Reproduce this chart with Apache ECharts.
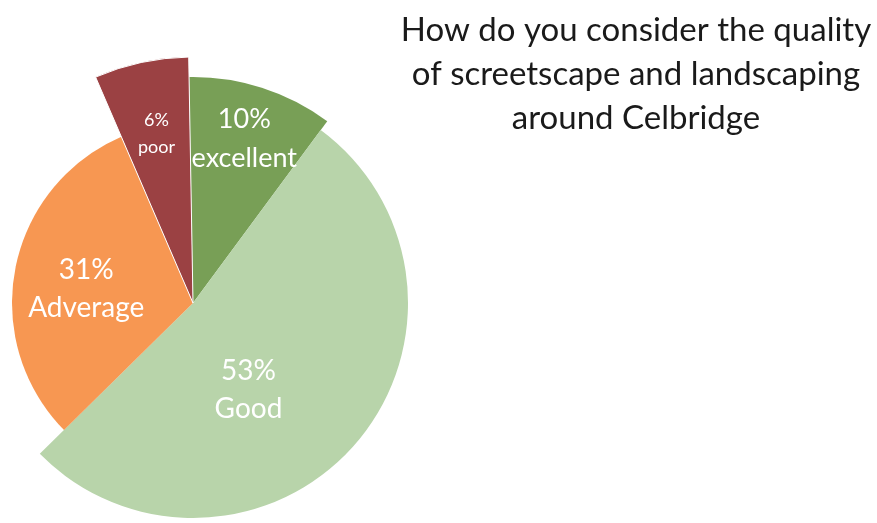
<!DOCTYPE html>
<html>
<head>
<meta charset="utf-8">
<script src="https://cdn.jsdelivr.net/npm/echarts@6/dist/echarts.min.js"></script>
<style>html,body{margin:0;padding:0;background:#fff}#chart{width:877px;height:523px}</style>
</head>
<body>
<div id="chart"></div>
<script>
const categories = ['excellent', 'Good', 'Adverage', 'poor'];
const values = [10.4, 52.5, 30.9, 6.2];
const titleText = 'How do you consider the quality\nof screetscape and landscaping\naround Celbridge';

const sliceStyles = [
  { color: '#789f56', radius: 226, fontSize: 27, lineHeight: 39, dx: 16, dy: -54 },
  { color: '#b8d4aa', radius: 215, fontSize: 28, lineHeight: 38, dx: -28, dy: 15 },
  { color: '#f79752', radius: 181, fontSize: 28, lineHeight: 38, dx: -15, dy: 4 },
  { color: '#9b4143', radius: 246, fontSize: 18, lineHeight: 27, dx: -10, dy: -46 }
];
const FONT = 'Lato, "Open Sans", sans-serif';

const series = categories.map((cat, i) => {
  const st = sliceStyles[i];
  return {
    type: 'pie',
    center: [193, 303],
    radius: [0, st.radius],
    startAngle: 91,
    clockwise: true,
    silent: true,
    animation: false,
    avoidLabelOverlap: false,
    emphasis: { disabled: true },
    labelLine: { show: false },
    labelLayout: { dx: st.dx, dy: st.dy },
    z: i === 3 ? 3 : 2,
    label: {
      position: 'inside',
      color: '#ffffff',
      fontFamily: FONT,
      fontSize: st.fontSize,
      lineHeight: st.lineHeight,
      formatter: p => Math.round(p.value) + '%\n' + p.name
    },
    data: categories.map((c, j) => ({
      name: c,
      value: values[j],
      itemStyle: j === i
        ? { color: st.color, borderColor: i === 3 ? '#ffffff' : st.color, borderWidth: i === 3 ? 1 : 0 }
        : { color: 'transparent', borderWidth: 0 },
      label: { show: j === i }
    }))
  };
});

const chart = echarts.init(document.getElementById('chart'));
chart.setOption({
  backgroundColor: '#ffffff',
  animation: false,
  series: series,
  graphic: [{
    type: 'text',
    x: 636,
    y: 8,
    silent: true,
    style: {
      text: titleText,
      fill: '#1a1a1a',
      font: '33px ' + FONT,
      lineHeight: 44,
      align: 'center',
      verticalAlign: 'top'
    }
  }]
});
</script>
</body>
</html>
